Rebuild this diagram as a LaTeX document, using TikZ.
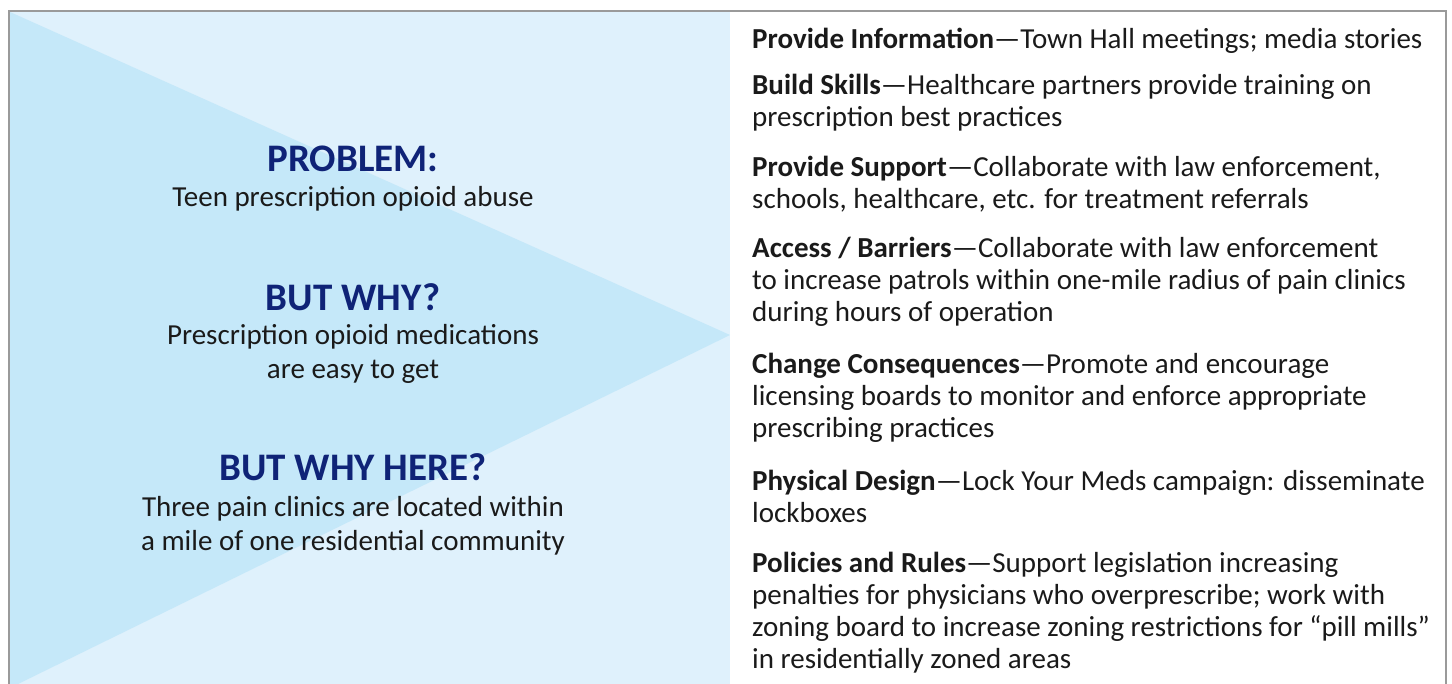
\documentclass[tikz,border=0pt]{standalone}
\usepackage{fontspec}
\setmainfont{Carlito}

\definecolor{panelblue}{HTML}{DFF1FC}
\definecolor{wedgeblue}{HTML}{C5E8F9}
\definecolor{framegray}{HTML}{9A9A9A}
\definecolor{titlenavy}{HTML}{0F2377}
\definecolor{bodyink}{HTML}{1A1A1A}

\begin{document}
\begin{tikzpicture}[x=1pt,y=-1pt,
    heading/.style={font=\fontsize{39}{44}\selectfont\bfseries, text=titlenavy, inner sep=0pt, anchor=base},
    reason/.style={font=\fontsize{29}{34}\selectfont, text=bodyink, align=center, inner sep=0pt, anchor=base},
    action/.style={font=\fontsize{29}{32}\selectfont, text=bodyink, align=left, inner sep=0pt, anchor=base west}]
    % --- 参数定义 ---
    \def\midX{353}    % 左栏文字中心
    \def\colX{752}    % 右栏文字左边
    \def\tipX{730}    % 三角形顶点
    % 多行节点的 base 取最后一行基线

    \useasboundingbox (0,0) rectangle (1452,684);

    % --- 1. 背景与三角形 ---
    \fill[panelblue] (10,12) rectangle (\tipX,684);
    \fill[wedgeblue] (10,12) -- (\tipX,335) -- (18,684) -- (10,684) -- cycle;

    % 外框 (底边无线)
    \draw[framegray, line width=2.5] (9,684) -- (9,11) -- (1446,11) -- (1446,684);

    % --- 2. 左栏: 问题与原因 ---
    \node[heading] (problem) at (\midX,172) {PROBLEM:};
    \node[reason] (problemtxt) at (\midX,207) {Teen prescription opioid abuse};

    \node[heading] (why) at (\midX,311) {BUT WHY?};
    \node[reason] (whytxt) at (\midX,379) {Prescription opioid medications\\are easy to get};

    \node[heading] (here) at (\midX,481) {BUT WHY HERE?};
    \node[reason] (heretxt) at (\midX,550) {Three pain clinics are located within\\a mile of one residential community};

    % --- 3. 右栏: 策略 ---
    \node[action] (inform) at (\colX,49) {\textbf{Provide Information}—Town Hall meetings; media stories};
    \node[action] (skills) at (\colX,127) {\textbf{Build Skills}—Healthcare partners provide training on\\prescription best practices};
    \node[action] (support) at (\colX,209) {\textbf{Provide Support}—Collaborate with law enforcement,\\schools, healthcare, etc. for treatment referrals};
    \node[action] (access) at (\colX,322) {\textbf{Access / Barriers}—Collaborate with law enforcement\\to increase patrols within one-mile radius of pain clinics\\during hours of operation};
    \node[action] (conseq) at (\colX,438) {\textbf{Change Consequences}—Promote and encourage\\licensing boards to monitor and enforce appropriate\\prescribing practices};
    \node[action] (design) at (\colX,522) {\textbf{Physical Design}—Lock Your Meds campaign: disseminate\\lockboxes};
    \node[action] (rules) at (\colX,668) {\textbf{Policies and Rules}—Support legislation increasing\\penalties for physicians who overprescribe; work with\\zoning board to increase zoning restrictions for “pill mills”\\in residentially zoned areas};

\end{tikzpicture}
\end{document}
